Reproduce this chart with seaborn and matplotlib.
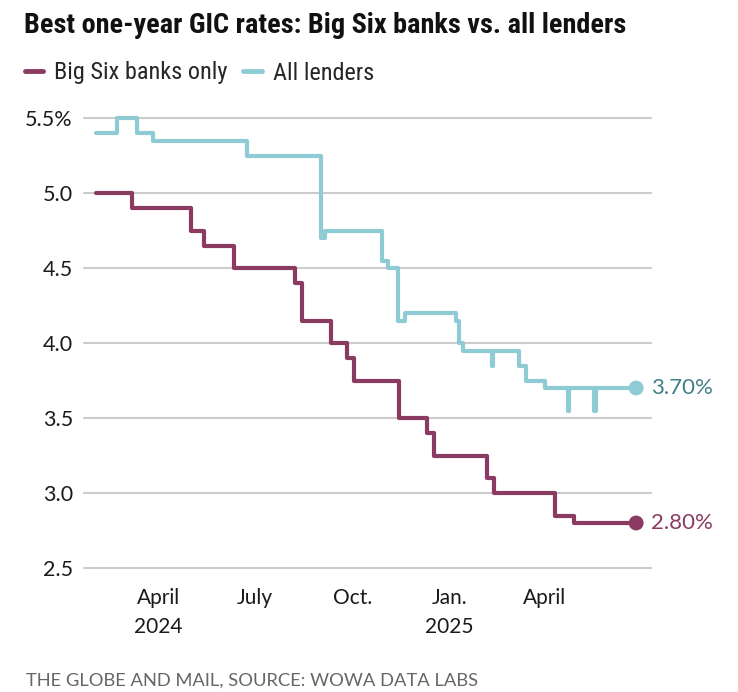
import matplotlib
matplotlib.use("Agg")
import matplotlib.pyplot as plt
import pandas as pd
import seaborn as sns

# step change dates and rates (% )
big_six_dates = ["2024-02-02", "2024-03-07", "2024-05-02", "2024-05-14", "2024-06-12",
                 "2024-08-08", "2024-08-15", "2024-09-11", "2024-09-26", "2024-10-03",
                 "2024-11-14", "2024-12-11", "2024-12-17", "2025-02-05", "2025-02-12",
                 "2025-04-10", "2025-04-28", "2025-06-26"]
big_six_rates = [5.00, 4.90, 4.75, 4.65, 4.50,
                 4.40, 4.15, 4.00, 3.90, 3.75,
                 3.50, 3.40, 3.25, 3.10, 3.00,
                 2.85, 2.80, 2.80]

all_dates = ["2024-02-02", "2024-02-22", "2024-03-12", "2024-03-27", "2024-06-24",
             "2024-09-02", "2024-09-05", "2024-10-29", "2024-11-04", "2024-11-13",
             "2024-11-20", "2025-01-07", "2025-01-10", "2025-01-14", "2025-02-10",
             "2025-02-11", "2025-03-07", "2025-03-14", "2025-04-01", "2025-04-23",
             "2025-04-24", "2025-05-17", "2025-05-19", "2025-06-26"]
all_rates = [5.40, 5.50, 5.40, 5.35, 5.25,
             4.70, 4.75, 4.55, 4.50, 4.15,
             4.20, 4.15, 4.00, 3.95, 3.85,
             3.95, 3.85, 3.75, 3.70, 3.55,
             3.70, 3.55, 3.70, 3.70]

series_names = ["Big Six banks only", "All lenders"]
xtick_dates = ["2024-04-01", "2024-07-01", "2024-10-01", "2025-01-01", "2025-04-01"]
xtick_labels = ["April\n2024", "July", "Oct.", "Jan.\n2025", "April"]
ytick_values = [2.5, 3.0, 3.5, 4.0, 4.5, 5.0, 5.5]
ytick_labels = ["2.5", "3.0", "3.5", "4.0", "4.5", "5.0", "5.5%"]

PURPLE = "#8b3b61"
TEAL = "#8fcbd5"
TEAL_TEXT = "#3f7f88"

df = pd.concat([
    pd.DataFrame({"date": pd.to_datetime(big_six_dates), "rate": big_six_rates, "series": series_names[0]}),
    pd.DataFrame({"date": pd.to_datetime(all_dates), "rate": all_rates, "series": series_names[1]}),
], ignore_index=True)

sns.set_style("white")
plt.rcParams["font.family"] = ["Lato", "DejaVu Sans"]
COND = ["Roboto Condensed", "DejaVu Sans"]

fig = plt.figure(figsize=(7.38, 6.92), dpi=100)
ax = fig.add_axes([84 / 738, 1 - 568 / 692, 567 / 738, 450 / 692])

sns.lineplot(data=df, x="date", y="rate", hue="series", hue_order=series_names,
             palette=[PURPLE, TEAL], estimator=None, linewidth=3.0,
             drawstyle="steps-post", ax=ax, clip_on=False, zorder=3)

# end dots + labels
last = df.groupby("series", sort=False).tail(1)
sns.scatterplot(data=last, x="date", y="rate", hue="series", hue_order=series_names,
                palette=[PURPLE, TEAL], s=115, edgecolor="none", legend=False,
                ax=ax, zorder=4, clip_on=False)
for _, r in last.iterrows():
    col = PURPLE if r["series"] == series_names[0] else TEAL_TEXT
    ax.annotate(f"{r['rate']:.2f}%", xy=(r["date"], r["rate"]), xytext=(11, 0),
                textcoords="offset points", va="center", ha="left",
                fontsize=16, color=col, annotation_clip=False)

ax.set_xlim(pd.Timestamp("2024-01-22"), pd.Timestamp("2025-07-10"))
ax.set_ylim(2.5, 5.5)
ax.set_xticks(pd.to_datetime(xtick_dates))
ax.set_xticklabels(xtick_labels, fontsize=15, color="#1a1a1a", linespacing=1.55)
ax.set_yticks(ytick_values)
ax.set_yticklabels(ytick_labels, fontsize=15.5, color="#1a1a1a")
ax.tick_params(axis="x", length=4.5, width=1.3, color="#333333", pad=10)
ax.tick_params(axis="y", length=0, pad=8)
ax.set_xlabel("")
ax.set_ylabel("")
ax.grid(axis="y", color="#cccccc", linewidth=1.5)
ax.grid(axis="x", visible=False)
for gl in ax.get_ygridlines():
    gl.set_clip_on(False)
ax.set_axisbelow(True)
sns.despine(ax=ax, left=True, bottom=True)

sns.move_legend(ax, "center left", bbox_to_anchor=(25 / 738, 1 - 73 / 692),
                bbox_transform=fig.transFigure, ncol=2, title=None, frameon=False,
                handlelength=0.75, handletextpad=0.45, columnspacing=0.65,
                borderpad=0, borderaxespad=0, prop={"family": COND, "size": 17.5})
for h in ax.get_legend().get_lines():
    h.set_linewidth(3.5)
    h.set_solid_capstyle("round")

fig.text(24 / 738, 1 - 33 / 692, "Best one-year GIC rates: Big Six banks vs. all lenders",
         family=COND, weight="bold", fontsize=20.3, color="#111111", va="baseline")
fig.text(26 / 738, 1 - 686 / 692, "THE GLOBE AND MAIL, SOURCE: WOWA DATA LABS",
         fontsize=13.2, color="#666666", va="baseline")

fig.savefig("out.png", dpi=100)
